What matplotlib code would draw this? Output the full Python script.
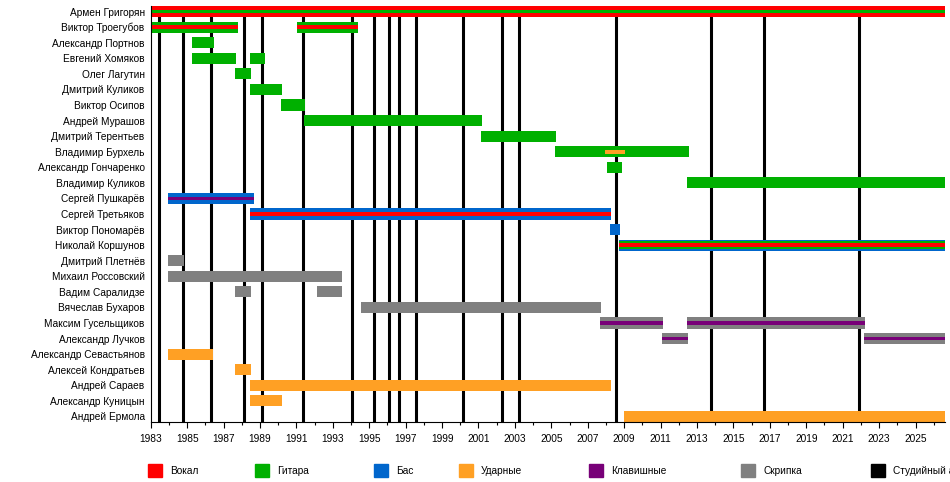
import matplotlib
matplotlib.use("Agg")
import matplotlib.pyplot as plt
from matplotlib.patches import Rectangle
from matplotlib.ticker import FixedLocator

plt.rcParams['font.family'] = ['Liberation Sans', 'DejaVu Sans']

# roles -> colours
role_colors = {
    'vocal': '#ff0000',
    'guitar': '#00b000',
    'bass': '#0066cc',
    'drums': '#ffa024',
    'keys': '#780078',
    'violin': '#808080',
    'album': '#000000',
}
legend_labels = ['Вокал', 'Гитара', 'Бас', 'Ударные', 'Клавишные', 'Скрипка', 'Студийный альбом']
legend_roles = ['vocal', 'guitar', 'bass', 'drums', 'keys', 'violin', 'album']

end = 2026.62

members = [
    'Армен Григорян', 'Виктор Троегубов', 'Александр Портнов', 'Евгений Хомяков',
    'Олег Лагутин', 'Дмитрий Куликов', 'Виктор Осипов', 'Андрей Мурашов',
    'Дмитрий Терентьев', 'Владимир Бурхель', 'Александр Гончаренко', 'Владимир Куликов',
    'Сергей Пушкарёв', 'Сергей Третьяков', 'Виктор Пономарёв', 'Николай Коршунов',
    'Дмитрий Плетнёв', 'Михаил Россовский', 'Вадим Саралидзе', 'Вячеслав Бухаров',
    'Максим Гусельщиков', 'Александр Лучков', 'Александр Севастьянов', 'Алексей Кондратьев',
    'Андрей Сараев', 'Александр Куницын', 'Андрей Ермола',
]

# (start, end, roles outer -> inner)
stints = {
    'Армен Григорян': [(1983.0, end, ['vocal', 'guitar'])],
    'Виктор Троегубов': [(1983.0, 1987.79, ['guitar', 'vocal']), (1991.03, 1994.38, ['guitar', 'vocal'])],
    'Александр Портнов': [(1985.27, 1986.48, ['guitar'])],
    'Евгений Хомяков': [(1985.27, 1987.68, ['guitar']), (1988.45, 1989.28, ['guitar'])],
    'Олег Лагутин': [(1987.63, 1988.51, ['guitar'])],
    'Дмитрий Куликов': [(1988.45, 1990.21, ['guitar'])],
    'Виктор Осипов': [(1990.16, 1991.47, ['guitar'])],
    'Андрей Мурашов': [(1991.42, 2001.19, ['guitar'])],
    'Дмитрий Терентьев': [(2001.14, 2005.26, ['guitar'])],
    'Владимир Бурхель': [(2005.20, 2012.56, ['guitar'])],
    'Александр Гончаренко': [(2008.06, 2008.88, ['guitar'])],
    'Владимир Куликов': [(2012.45, end, ['guitar'])],
    'Сергей Пушкарёв': [(1983.95, 1988.67, ['bass', 'keys'])],
    'Сергей Третьяков': [(1988.45, 2008.29, ['bass', 'vocal'])],
    'Виктор Пономарёв': [(2008.23, 2008.78, ['bass'])],
    'Николай Коршунов': [(2008.72, end, ['bass', 'guitar', 'vocal'])],
    'Дмитрий Плетнёв': [(1983.95, 1984.83, ['violin'])],
    'Михаил Россовский': [(1983.95, 1993.51, ['violin'])],
    'Вадим Саралидзе': [(1987.63, 1988.51, ['violin']), (1992.13, 1993.51, ['violin'])],
    'Вячеслав Бухаров': [(1994.55, 2007.73, ['violin'])],
    'Максим Гусельщиков': [(2007.68, 2011.14, ['violin', 'keys']), (2012.45, 2022.23, ['violin', 'keys'])],
    'Александр Лучков': [(2011.09, 2012.51, ['violin', 'keys']), (2022.18, end, ['violin', 'keys'])],
    'Александр Севастьянов': [(1983.95, 1986.42, ['drums'])],
    'Алексей Кондратьев': [(1987.63, 1988.51, ['drums'])],
    'Андрей Сараев': [(1988.45, 2008.29, ['drums'])],
    'Александр Куницын': [(1988.45, 1990.21, ['drums'])],
    'Андрей Ермола': [(2008.99, end, ['drums'])],
}

# short extra roles drawn as a thin strip inside an existing bar
overlays = [('Владимир Бурхель', 2007.95, 2009.05, 'drums')]

albums = [1983.44, 1984.76, 1986.30, 1988.11, 1989.10, 1991.36, 1994.05, 1995.26,
          1996.08, 1996.63, 1997.57, 2000.15, 2002.30, 2003.23, 2008.56, 2013.79,
          2016.70, 2021.87]

W, H = 950, 482
fig = plt.figure(figsize=(W / 100, H / 100), dpi=100)
ax = fig.add_axes([150.7 / W, (H - 422) / H, (945 - 150.7) / W, 416 / H])

bar_h = 0.72
layer_frac = {1: [1.0], 2: [1.0, 1 / 3], 3: [1.0, 2 / 3, 1 / 3]}

for yr in albums:
    ax.axvline(yr, color='black', lw=2.2, zorder=1)

for i, name in enumerate(members):
    for s, e, roles in stints[name]:
        for frac, role in zip(layer_frac[len(roles)], roles):
            ax.barh(i, e - s, left=s, height=bar_h * frac, color=role_colors[role],
                    linewidth=0, zorder=2)

for name, s, e, role in overlays:
    ax.barh(members.index(name), e - s, left=s, height=bar_h / 3,
            color=role_colors[role], linewidth=0, zorder=3)

ax.set_xlim(1983, end)
ax.set_ylim(len(members) - 1 + 0.36, -0.36)
ax.set_yticks(range(len(members)))
ax.set_yticklabels(members, fontsize=7.3)
ax.tick_params(axis='y', length=0, pad=4.3)
ax.xaxis.set_major_locator(FixedLocator(range(1983, 2027, 2)))
ax.xaxis.set_minor_locator(FixedLocator(range(1983, 2027)))
ax.tick_params(axis='x', which='major', length=4, width=0.8, labelsize=7.3, pad=4.5)
ax.tick_params(axis='x', which='minor', length=2.5, width=0.8)
for sp in ['top', 'right']:
    ax.spines[sp].set_visible(False)
for sp in ['left', 'bottom']:
    ax.spines[sp].set_linewidth(0.8)

# legend row (last label runs off the right edge, as in the original)
sq_x = [148, 255, 374, 459, 589, 741, 871]
for x, role, label in zip(sq_x, legend_roles, legend_labels):
    fig.patches.append(Rectangle((x / W, (H - 477) / H), 13.5 / W, 13 / H,
                                 transform=fig.transFigure, color=role_colors[role]))
    fig.text((x + 22) / W, (H - 471) / H, label, fontsize=7.3, va='center', ha='left')

fig.savefig('out.png', dpi=100)
